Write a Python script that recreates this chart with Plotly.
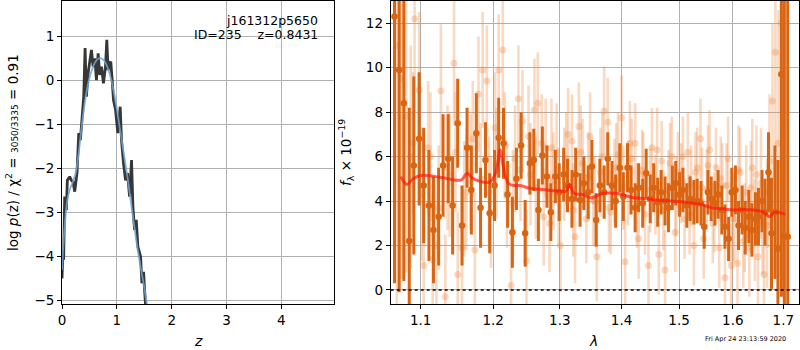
import plotly.graph_objects as go

# ---------------- left panel: log p(z) ----------------
pz_z = [0.0, 0.018, 0.03, 0.049, 0.079, 0.098, 0.14, 0.171, 0.201, 0.232, 0.274, 0.305,
        0.335, 0.366, 0.396, 0.421, 0.445, 0.476, 0.506, 0.537, 0.567, 0.598, 0.628,
        0.659, 0.689, 0.72, 0.756, 0.793, 0.817, 0.841, 0.866, 0.89, 0.915, 0.939,
        0.976, 1.018, 1.061, 1.085, 1.122, 1.159, 1.195, 1.232, 1.268, 1.293, 1.323,
        1.354, 1.384, 1.433, 1.457, 1.488, 1.506, 1.524]
pz_logp = [-4.5, -3.86, -4.08, -2.64, -2.95, -2.27, -2.19, -2.27, -2.3, -2.53, -2.1, -1.2,
           -1.36, -0.83, -0.37, 0.73, -0.37, 0.16, 0.46, 0.69, 0.31, 0.5, 0.0,
           0.61, 0.12, 0.31, -0.07, 0.31, 0.92, 0.23, 0.39, 0.42, 0.0, -0.45,
           -0.67, -1.2, -0.6, -1.36, -1.89, -2.27, -2.11, -2.64, -1.81, -2.87, -3.4,
           -3.17, -3.78, -4.0, -4.61, -4.35, -4.77, -5.1]

fit_z = [0.0, 0.05, 0.1, 0.15, 0.2, 0.25, 0.3, 0.35, 0.4, 0.45, 0.5, 0.55, 0.6, 0.65,
         0.7, 0.75, 0.8, 0.85, 0.9, 0.95, 1.0, 1.05, 1.1, 1.15, 1.2, 1.25, 1.3, 1.35,
         1.4, 1.45, 1.5, 1.55]
fit_logp = [-4.3, -3.3, -2.7, -2.45, -2.3, -2.1, -1.7, -1.15, -0.65, -0.25, 0.05, 0.25,
            0.4, 0.48, 0.5, 0.47, 0.38, 0.22, 0.0, -0.3, -0.65, -1.05, -1.45, -1.85,
            -2.25, -2.7, -3.15, -3.6, -4.0, -4.35, -4.7, -5.1]

# ---------------- right panel: spectrum ----------------
dark_wave = [1.066, 1.072, 1.078, 1.085, 1.091, 1.098, 1.104, 1.111, 1.117, 1.124,
             1.130, 1.137, 1.143, 1.150, 1.156, 1.163, 1.169, 1.176, 1.182, 1.189,
             1.195, 1.202, 1.208, 1.215, 1.221, 1.228, 1.234, 1.241, 1.247, 1.254,
             1.260, 1.267, 1.273, 1.280, 1.286, 1.293, 1.299, 1.306, 1.312, 1.319,
             1.325, 1.332, 1.338, 1.345, 1.351, 1.358, 1.364, 1.371, 1.377, 1.384,
             1.390, 1.397, 1.403, 1.410, 1.416, 1.423, 1.429, 1.436, 1.442, 1.449,
             1.455, 1.462, 1.468, 1.475, 1.481, 1.488, 1.494, 1.501, 1.507, 1.514,
             1.520, 1.527, 1.533, 1.540, 1.546, 1.553, 1.559, 1.566, 1.572, 1.579,
             1.585, 1.592, 1.598, 1.605, 1.611, 1.618, 1.624, 1.631, 1.637, 1.644,
             1.650, 1.657, 1.663, 1.670, 1.676, 1.683, 1.689, 1.696, 1.702, 1.709]
dark_flux = [12.3, 9.9, 8.4, 2.2, 5.6, 6.8, 4.7, 3.8, 2.7, 3.3,
             5.6, 5.9, 3.8, 7.5, 2.9, 6.4, 4.5, 7.05, 3.7, 5.85,
             3.45, 4.7, 6.85, 6.6, 4.3, 2.6, 5.0, 6.5, 2.55, 5.7,
             5.85, 3.6, 6.05, 5.1, 3.5, 5.1, 4.4, 5.2, 4.7, 4.1,
             5.2, 4.05, 4.8, 4.4, 5.55, 3.15, 4.7, 4.4, 5.9, 4.7,
             4.0, 5.5, 4.2, 5.5, 4.5, 3.7, 4.6, 3.9, 5.25, 4.1,
             4.6, 3.95, 4.4, 4.0, 3.7, 4.6, 4.8, 4.3, 4.5, 3.8,
             4.1, 3.95, 4.0, 3.9, 2.85, 4.4, 4.1, 3.9, 4.3, 3.6,
             2.85, 2.3, 4.4, 4.5, 2.9, 3.6, 2.8, 3.3, 2.7, 3.2,
             3.3, 4.0, 3.5, 5.3, 2.55, 3.5, 1.85, 9.7, 2.4, 2.4]
dark_err = [12.0, 10.0, 8.0, 6.0, 4.0, 3.0, 2.6, 2.5, 2.4, 2.2,
            2.3, 2.0, 2.2, 2.0, 1.8, 1.8, 2.0, 1.8, 1.8, 1.7,
            1.8, 1.6, 1.8, 1.6, 1.5, 1.6, 1.4, 1.5, 1.5, 1.4,
            1.4, 1.4, 1.3, 1.4, 1.3, 1.2, 1.3, 1.2, 1.2, 1.3,
            1.2, 1.2, 1.2, 1.2, 1.2, 1.2, 1.2, 1.2, 1.2, 1.1,
            1.2, 1.1, 1.1, 1.1, 1.1, 1.1, 1.1, 1.1, 1.1, 1.1,
            1.1, 1.1, 1.0, 1.1, 1.1, 1.0, 1.0, 1.0, 1.0, 1.0,
            1.0, 1.0, 1.0, 1.0, 1.0, 1.0, 1.0, 1.0, 1.1, 1.1,
            1.0, 1.0, 1.1, 1.1, 1.1, 1.1, 1.2, 1.2, 1.2, 1.2,
            1.3, 1.4, 1.5, 1.8, 2.5, 3.0, 4.0, 10.0, 13.0, 15.0]

light_wave = [1.069, 1.075, 1.081, 1.087, 1.092, 1.098, 1.104, 1.110, 1.116, 1.121,
              1.127, 1.133, 1.139, 1.145, 1.150, 1.156, 1.162, 1.168, 1.174, 1.179,
              1.185, 1.191, 1.197, 1.203, 1.208, 1.214, 1.220, 1.226, 1.232, 1.237,
              1.243, 1.249, 1.255, 1.261, 1.266, 1.272, 1.278, 1.284, 1.290, 1.295,
              1.301, 1.307, 1.313, 1.319, 1.324, 1.330, 1.336, 1.342, 1.348, 1.353,
              1.359, 1.365, 1.371, 1.377, 1.382, 1.388, 1.394, 1.400, 1.406, 1.411,
              1.417, 1.423, 1.429, 1.435, 1.440, 1.446, 1.452, 1.458, 1.464, 1.469,
              1.475, 1.481, 1.487, 1.493, 1.498, 1.504, 1.510, 1.516, 1.522, 1.527,
              1.533, 1.539, 1.545, 1.551, 1.556, 1.562, 1.568, 1.574, 1.580, 1.585,
              1.591, 1.597, 1.603, 1.609, 1.614, 1.620, 1.626, 1.632, 1.638, 1.643,
              1.649, 1.655, 1.661, 1.667, 1.672, 1.678, 1.684, 1.690, 1.696, 1.702]
light_flux = [11.0, 9.5, 7.8, 6.0, 12.2, 9.0, 1.1, 6.4, 1.35, 2.0,
              8.95, -0.3, 5.2, 10.2, 0.7, 1.9, 4.4, 5.3, 1.8, 8.8,
              9.9, 9.4, 3.5, 7.3, 9.9, 10.8, 4.3, 0.2, 5.9, 8.6,
              7.6, 1.3, 5.2, 8.1, 8.4, 6.6, 6.4, 3.0, 4.9, 6.2,
              2.0, 5.2, 7.0, 6.7, 2.4, 7.35, 5.7, 3.2, 6.9, 4.0,
              1.5, 5.3, 8.05, 7.55, 3.5, 4.9, 6.1, 7.75, 1.27, 4.8,
              5.9, 6.6, 2.3, 5.4, 3.4, 1.1, 6.4, 4.3, 1.6, 5.8,
              0.9, 4.5, 6.0, 2.6, 5.3, 4.8, 3.2, 6.2, 4.7, 2.0,
              5.5, 6.8, 2.3, 4.5, 6.3, 3.0, 5.5, 1.9, 4.7, 0.55,
              5.9, 1.1, 3.2, 1.2, 5.3, 2.2, 4.4, 1.9, 5.5, 2.7,
              1.5, 4.8, 0.7, 2.9, 5.8, 8.5, 10.7, 6.6, 12.0, 2.5]
light_err = [12.0, 9.0, 7.0, 5.0, 4.0, 3.5, 3.0, 3.0, 3.0, 3.0,
             3.0, 2.8, 2.8, 2.8, 2.8, 2.6, 2.6, 2.6, 2.6, 2.6,
             2.6, 2.5, 2.5, 2.5, 2.5, 2.5, 2.4, 2.4, 2.4, 2.4,
             2.3, 2.3, 2.3, 2.3, 2.3, 2.2, 2.2, 2.2, 2.2, 2.2,
             2.1, 2.1, 2.1, 2.1, 2.1, 2.0, 2.0, 2.0, 2.0, 2.0,
             2.0, 2.0, 2.0, 2.0, 1.9, 1.9, 1.9, 1.9, 1.9, 1.9,
             1.8, 1.8, 1.8, 1.8, 1.8, 1.8, 1.8, 1.8, 1.8, 1.8,
             1.8, 1.8, 1.8, 1.8, 1.8, 1.8, 1.8, 1.8, 1.8, 1.8,
             1.8, 1.8, 1.8, 1.8, 1.8, 1.8, 1.8, 1.8, 1.9, 1.9,
             1.9, 1.9, 2.0, 2.0, 2.0, 2.1, 2.1, 2.2, 2.2, 2.3,
             2.4, 2.5, 2.6, 2.8, 3.0, 3.5, 4.5, 6.0, 9.0, 12.0]

# second set of faint points (the dense middle cloud)
light2_wave = [1.090, 1.101, 1.113, 1.124, 1.136, 1.147, 1.159, 1.171, 1.182, 1.194,
               1.205, 1.217, 1.229, 1.240, 1.252, 1.263, 1.275, 1.287, 1.298, 1.310,
               1.321, 1.333, 1.345, 1.356, 1.368, 1.379, 1.391, 1.403, 1.414, 1.426,
               1.437, 1.449, 1.461, 1.472, 1.484, 1.495, 1.507, 1.519, 1.530, 1.542,
               1.553, 1.565, 1.577, 1.588, 1.600, 1.611, 1.623, 1.635, 1.646, 1.658,
               1.669]
light2_flux = [6.6, 4.3, 6.0, 3.7, 5.5, 6.2, 4.1, 6.8, 5.0, 4.4,
               5.7, 6.5, 3.9, 5.4, 6.9, 4.6, 3.3, 6.4, 4.2, 5.9,
               3.6, 6.2, 5.1, 4.0, 6.0, 3.7, 5.5, 4.6, 6.6, 3.8,
               5.2, 4.5, 6.3, 3.6, 5.7, 4.2, 6.0, 3.4, 5.3, 4.6,
               5.6, 3.5, 5.0, 4.7, 3.2, 5.4, 2.8, 4.6, 5.2, 3.0,
               4.4]
light2_err = [3.2, 3.0, 2.9, 2.8, 2.8, 2.7, 2.6, 2.6, 2.5, 2.5,
              2.5, 2.4, 2.4, 2.3, 2.3, 2.3, 2.2, 2.2, 2.2, 2.1,
              2.1, 2.1, 2.0, 2.0, 2.0, 2.0, 2.0, 1.9, 1.9, 1.9,
              1.9, 1.9, 1.9, 1.8, 1.8, 1.8, 1.8, 1.8, 1.8, 1.8,
              1.8, 1.8, 1.9, 1.9, 1.9, 2.0, 2.0, 2.1, 2.2, 2.3,
              2.5]

model_wave = [1.074, 1.082, 1.09, 1.10, 1.11, 1.12, 1.13, 1.14, 1.155, 1.163, 1.17, 1.18,
              1.195, 1.204, 1.21, 1.215, 1.222, 1.23, 1.24, 1.25, 1.26, 1.28, 1.30, 1.31,
              1.315, 1.322, 1.335, 1.35, 1.36, 1.37, 1.39, 1.40, 1.42, 1.44, 1.46, 1.48,
              1.50, 1.52, 1.54, 1.56, 1.58, 1.60, 1.62, 1.64, 1.66, 1.672, 1.682, 1.704]
model_flux = [5.1, 4.75, 5.0, 5.15, 5.15, 5.1, 5.05, 4.98, 4.95, 5.25, 5.05, 4.9,
              4.85, 5.3, 6.3, 5.5, 4.8, 4.7, 4.7, 4.6, 4.55, 4.5, 4.45, 4.45,
              4.75, 4.35, 4.3, 4.15, 4.25, 4.35, 4.35, 4.3, 4.15, 4.12, 4.05, 4.02,
              3.98, 3.92, 3.85, 3.7, 3.65, 3.6, 3.62, 3.6, 3.5, 3.3, 3.5, 3.4]

wave_ticks = [1.1, 1.2, 1.3, 1.4, 1.5, 1.6, 1.7]
wave_ticklabels = ["1.1", "1.2", "1.3", "1.4", "1.5", "1.6", "1.7"]

DARK = "rgb(217,100,18)"
LIGHT = "rgba(236,140,70,0.33)"
FONT = "DejaVu Sans"

fig = go.Figure()

# left panel
fig.add_trace(go.Scatter(x=pz_z, y=pz_logp, mode="lines", xaxis="x", yaxis="y",
                         line=dict(color="rgb(55,55,55)", width=2.8), showlegend=False))
fig.add_trace(go.Scatter(x=fit_z, y=fit_logp, mode="lines", xaxis="x", yaxis="y",
                         line=dict(color="rgba(110,165,210,0.85)", width=1.8, shape="spline"),
                         showlegend=False))

# right panel
for wv, fl, er in [(light_wave, light_flux, light_err), (light2_wave, light2_flux, light2_err)]:
    fig.add_trace(go.Scatter(x=wv, y=fl, mode="markers", xaxis="x2", yaxis="y2",
                             marker=dict(color=LIGHT, size=7, line=dict(width=0)),
                             error_y=dict(type="data", array=er, color=LIGHT,
                                          thickness=2.6, width=0),
                             showlegend=False))
fig.add_trace(go.Scatter(x=dark_wave, y=dark_flux, mode="markers", xaxis="x2", yaxis="y2",
                         marker=dict(color=DARK, size=6.5, line=dict(width=0)),
                         error_y=dict(type="data", array=dark_err, color=DARK,
                                      thickness=3, width=0),
                         showlegend=False))
fig.add_trace(go.Scatter(x=model_wave, y=model_flux, mode="lines", xaxis="x2", yaxis="y2",
                         line=dict(color="rgba(255,20,10,0.68)", width=3, shape="spline"),
                         showlegend=False))

# zero line
fig.add_shape(type="line", xref="x2 domain", yref="y2", x0=0, x1=1, y0=0, y1=0,
              line=dict(color="black", width=1.6, dash="dot"))

axis_common = dict(showline=True, linecolor="black", linewidth=1, mirror=True,
                   ticks="outside", ticklen=4, tickcolor="black", tickwidth=1,
                   showgrid=True, gridcolor="#b0b0b0", gridwidth=1, zeroline=False,
                   automargin=False,
                   tickfont=dict(family=FONT, size=13.5, color="black"))

fig.update_layout(
    width=800, height=350,
    margin=dict(l=0, r=0, t=0, b=0, autoexpand=False),
    paper_bgcolor="white", plot_bgcolor="white",
    font=dict(family=FONT, color="black"),
    xaxis=dict(domain=[62/800, 334/800], range=[0, 4.96], tickvals=[0, 1, 2, 3, 4],
               anchor="y", **axis_common),
    yaxis=dict(domain=[1 - 304/350, 1 - 1/350], range=[-5.08, 1.8],
               tickvals=[-5, -4, -3, -2, -1, 0, 1], anchor="x", **axis_common),
    xaxis2=dict(domain=[390.7/800, 799/800], type="log", range=[0.02577, 0.23862],
                tickvals=wave_ticks, ticktext=wave_ticklabels, anchor="y2", **axis_common),
    yaxis2=dict(domain=[1 - 304/350, 1 - 1/350], range=[-0.63, 13.0],
                tickvals=[0, 2, 4, 6, 8, 10, 12], anchor="x2", **axis_common),
)

ann = [
    dict(x=320/800, y=1 - 20/350, text="j161312p5650", xanchor="right", yanchor="middle",
         font=dict(size=12.5)),
    dict(x=320/800, y=1 - 35/350, text="ID=235    z=0.8431", xanchor="right",
         yanchor="middle", font=dict(size=12.5)),
    dict(x=198/800, y=1 - 341/350, text="<i>z</i>", xanchor="center", yanchor="middle",
         font=dict(size=14)),
    dict(x=593/800, y=1 - 341/350, text="<i>λ</i>", xanchor="center", yanchor="middle",
         font=dict(size=14)),
    dict(x=12/800, y=1 - 153/350, textangle=-90, xanchor="center", yanchor="middle",
         text="log <i>p</i>(z) / χ<sup>2</sup> = <span style='font-size:9px'>3050/3335</span> = 0.91",
         font=dict(size=13.5)),
    dict(x=346/800, y=1 - 153/350, textangle=-90, xanchor="center", yanchor="middle",
         text="<i>f</i><sub>λ</sub> × 10<sup>−19</sup>", font=dict(size=13.5)),
    dict(x=745/800, y=1 - 339/350, text="Fri Apr 24 23:13:59 2020", xanchor="center",
         yanchor="middle", font=dict(size=6.5)),
]
for a in ann:
    a.update(xref="paper", yref="paper", showarrow=False)
    a["font"] = dict(family=FONT, color="black", **a["font"])
fig.update_layout(annotations=ann)

fig.write_html("out.html", config={"displayModeBar": False},
               post_script="document.body.style.margin='0px';document.body.style.overflow='hidden';")
